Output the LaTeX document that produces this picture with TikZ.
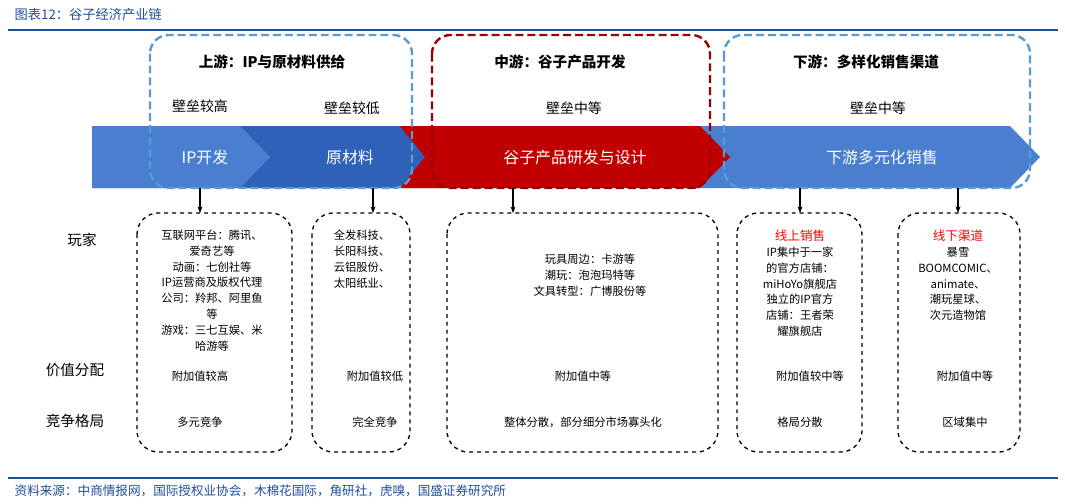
\documentclass[tikz,border=0pt]{standalone}
\usepackage{fontspec}
\setmainfont{Noto Sans CJK SC}
\usetikzlibrary{arrows.meta}
\definecolor{tb}{HTML}{5B9BD5}
\definecolor{lb}{HTML}{4A7FD0}
\definecolor{db}{HTML}{2E62B8}
\definecolor{rd}{HTML}{C00000}
\definecolor{ln}{HTML}{1F4E9A}
\tikzset{
 topbox/.style={draw=tb,dash pattern=on 6pt off 3pt,line width=1.8pt,rounded corners=14pt},
 botbox/.style={draw=black,dashed,line width=1pt,rounded corners=16pt},
 bandtxt/.style={text=white,font=\fontsize{12}{14}\selectfont},
 hdr/.style={font=\bfseries\fontsize{11}{13}\selectfont},
 bar/.style={font=\fontsize{10.5}{12}\selectfont},
 cell/.style={font=\fontsize{8.5}{12}\selectfont,align=center},
 lbl/.style={font=\fontsize{11}{13}\selectfont},
 dn/.style={-{Stealth[length=5pt]},line width=0.8pt}
}
\begin{document}
\begin{tikzpicture}[x=0.0265cm,y=-0.0265cm]
\useasboundingbox[fill=white] (0,0) rectangle (1065,503);
\node[anchor=west,font=\itshape\fontsize{10}{12}\selectfont,text=ln] (title) at (10,14) {图表12：谷子经济产业链};
\draw[ln,line width=1pt] (8,30) -- (1058,30);
\draw[ln,line width=1pt] (8,478) -- (1058,478);
\node[anchor=west,font=\itshape\fontsize{9.5}{12}\selectfont,text=ln] (src) at (10,491) {资料来源：中商情报网，国际授权业协会，木棉花国际，角研社，虎嗅，国盛证券研究所};
% band
\fill[lb] (92,126) -- (1010,126) -- (1040,157) -- (1010,188) -- (92,188) -- cycle;
\fill[db] (240,126) -- (400,126) -- (425,157) -- (400,188) -- (240,188) -- (270,157) -- cycle;
\fill[lb] (92,126) -- (240,126) -- (270,157) -- (240,188) -- (92,188) -- cycle;
\fill[rd] (400,126) -- (700,126) -- (730,157) -- (700,188) -- (400,188) -- (425,157) -- cycle;
\node[bandtxt] (b1) at (205,157) {IP开发};
\node[bandtxt] (b2) at (350,157) {原材料};
\node[bandtxt] (b3) at (575,157) {谷子产品研发与设计};
\node[bandtxt] (b4) at (882,157) {下游多元化销售};
% top boxes
\draw[topbox] (150,35) rectangle (412,188);
\draw[topbox,draw=rd!80!black] (432,35) rectangle (710,188);
\draw[topbox] (724,35) rectangle (1030,188);
\node[hdr] (h1) at (272,62) {上游：IP与原材料供给};
\node[hdr] (h2) at (560,62) {中游：谷子产品开发};
\node[hdr] (h3) at (866,62) {下游：多样化销售渠道};
\node[bar] (w1) at (200,106) {壁垒较高};
\node[bar] (w2) at (352,108) {壁垒较低};
\node[bar] (w3) at (574,108) {壁垒中等};
\node[bar] (w4) at (878,108) {壁垒中等};
% bottom boxes
\draw[botbox] (137,213) rectangle (292,452);
\draw[botbox] (312,213) rectangle (410,452);
\draw[botbox] (447,213) rectangle (718,452);
\draw[botbox] (737,213) rectangle (862,452);
\draw[botbox] (898,213) rectangle (1020,452);
\coordinate (t1) at (200,213); \coordinate (t2) at (373,213); \coordinate (t3) at (513,213);
\coordinate (t4) at (800,213); \coordinate (t5) at (958,213);
\draw[dn] (200,188) -- (t1);
\draw[dn] (373,188) -- (t2);
\draw[dn] (513,188) -- (t3);
\draw[dn] (800,188) -- (t4);
\draw[dn] (958,188) -- (t5);
\node[lbl] (l1) at (82,240) {玩家};
\node[lbl] (l2) at (75,370) {价值分配};
\node[lbl] (l3) at (75,421) {竞争格局};
\node[cell,anchor=north] (c1) at (212,225) {互联网平台：腾讯、\\爱奇艺等\\动画：七创社等\\IP运营商及版权代理\\公司：羚邦、阿里鱼\\等\\游戏：三七互娱、米\\哈游等};
\node[cell,anchor=north] (c2) at (362,225) {全发科技、\\长阳科技、\\云铝股份、\\太阳纸业、};
\node[cell,anchor=center] (c3) at (590,275) {玩具周边：卡游等\\潮玩：泡泡玛特等\\文具转型：广博股份等};
\node[cell,anchor=north] (c4) at (800,225) {\textcolor{red}{\fontsize{9.5}{12}\selectfont 线上销售}\\IP集中于一家\\的官方店铺：\\miHoYo旗舰店\\独立的IP官方\\店铺：王者荣\\耀旗舰店};
\node[cell,anchor=north] (c5) at (958,225) {\textcolor{red}{\fontsize{9.5}{12}\selectfont 线下渠道}\\暴雪\\BOOMCOMIC、\\animate、\\潮玩星球、\\次元造物馆};
\node[cell] (v1) at (200,376) {附加值较高};
\node[cell] (v2) at (375,376) {附加值较低};
\node[cell] (v3) at (583,376) {附加值中等};
\node[cell] (v4) at (810,376) {附加值较中等};
\node[cell] (v5) at (965,376) {附加值中等};
\node[cell] (k1) at (200,422) {多元竞争};
\node[cell] (k2) at (375,422) {完全竞争};
\node[cell] (k3) at (583,422) {整体分散，部分细分市场寡头化};
\node[cell] (k4) at (800,422) {格局分散};
\node[cell] (k5) at (965,422) {区域集中};
\end{tikzpicture}
\end{document}
